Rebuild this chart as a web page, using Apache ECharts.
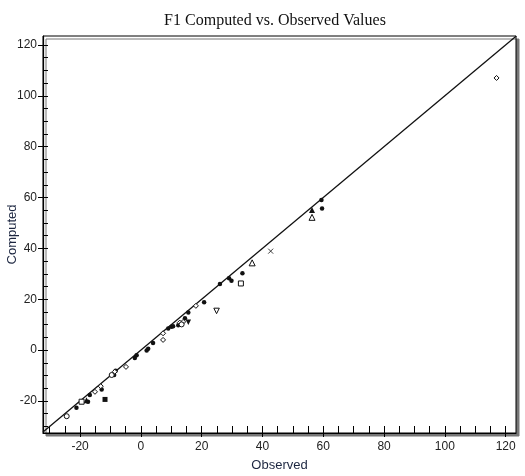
<!DOCTYPE html>
<html>
<head>
<meta charset="utf-8">
<script src="https://cdn.jsdelivr.net/npm/echarts@6/dist/echarts.min.js"></script>
<style>
  html, body { margin: 0; padding: 0; background: #fff; }
  #chart { width: 525px; height: 476px; }
</style>
</head>
<body>
<div id="chart"></div>
<script>
// Axis extents (observed and computed share nearly the same range)
const axisMin = -32.2;
const axisMax = 123.4;
const yAxisMin = -32.6;
const yAxisMax = 123.5;

// Tick values
const majorTicks = [-20, 0, 20, 40, 60, 80, 100, 120];
const minorTicks = [-30, -25, -20, -15, -10, -5, 0, 5, 10, 15, 20, 25, 30, 35, 40, 45, 50, 55, 60,
  65, 70, 75, 80, 85, 90, 95, 100, 105, 110, 115, 120];

// [observed, computed] pairs grouped by marker
const filledCircles = [
  [59.6, 55.7], [59.4, 59.0], [33.4, 30.2], [29.0, 28.2], [29.8, 27.3], [26.0, 26.0],
  [20.8, 18.8], [15.6, 14.8], [14.5, 12.5], [10.1, 9.2], [9.0, 8.5], [10.6, 9.4],
  [12.3, 9.8], [4.0, 2.8], [2.4, 0.5], [1.9, -0.2], [-1.4, -2.0], [-2.0, -3.1],
  [-8.3, -8.1], [-8.8, -9.8], [-12.9, -15.5], [-16.8, -17.7], [-17.4, -20.3], [-21.2, -22.7]
];
const filledTriangles = [[56.3, 55.1], [-17.9, -19.7]];
const filledDownTriangles = [[15.6, 10.9]];
const openTriangles = [[56.3, 52.2], [36.6, 34.3]];
const openDownTriangles = [[24.9, 15.4]];
const openSquares = [[32.9, 26.2], [-19.5, -20.3]];
const filledSquares = [[-11.8, -19.4]];
const crosses = [[42.7, 38.9]];
const openDiamonds = [
  [117.0, 107.0], [18.1, 17.4], [13.9, 11.1], [12.8, 10.8], [7.3, 6.6], [7.3, 4.0],
  [-4.9, -6.6], [-8.6, -8.5], [-13.2, -14.2], [-15.1, -16.4]
];
const openCircles = [[13.4, 10.1], [-24.4, -26.0], [-9.6, -9.8]];

const tickFont = '"Liberation Sans Narrow", "Liberation Sans", Arial, sans-serif';

function scatter(name, data, symbol, size, filled) {
  return {
    name: name,
    type: 'scatter',
    data: data,
    symbol: symbol,
    symbolSize: size,
    silent: true,
    itemStyle: {
      color: filled ? '#111' : '#fff',
      borderColor: '#111',
      borderWidth: filled ? 0 : 1,
      opacity: 1
    },
    z: 5
  };
}

const chart = echarts.init(document.getElementById('chart'), null, { renderer: 'canvas' });

chart.setOption({
  animation: false,
  backgroundColor: '#fff',
  title: {
    text: 'F1 Computed vs. Observed Values',
    left: 270,
    textAlign: 'center',
    top: 8,
    textStyle: {
      fontFamily: '"Liberation Serif", "Times New Roman", serif',
      fontWeight: 'normal',
      fontSize: 16,
      color: '#111'
    }
  },
  grid: {
    left: 43,
    right: 9,
    top: 36,
    bottom: 43,
    containLabel: false,
    outerBoundsMode: 'none',
    show: true,
    backgroundColor: '#fff',
    borderColor: '#000',
    borderWidth: 1,
    shadowColor: '#777',
    shadowBlur: 0,
    shadowOffsetX: 3,
    shadowOffsetY: 3
  },
  xAxis: [
    {
      type: 'value',
      min: axisMin,
      max: axisMax,
      position: 'bottom',
      name: 'Observed',
      nameLocation: 'middle',
      nameGap: 26,
      nameMoveOverlap: false,
      nameTextStyle: { fontFamily: tickFont, fontSize: 13, color: '#1c2640' },
      axisLine: { show: true, onZero: false, lineStyle: { color: '#000', width: 1.2 } },
      axisTick: { show: true, inside: false, length: 4, customValues: majorTicks, lineStyle: { color: '#000' } },
      axisLabel: { show: true, customValues: majorTicks, margin: 8, fontFamily: tickFont, fontSize: 12, color: '#222' },
      splitLine: { show: false }
    },
    {
      type: 'value',
      min: axisMin,
      max: axisMax,
      position: 'bottom',
      axisLine: { show: false, onZero: false },
      axisTick: { show: true, inside: true, length: 7, customValues: minorTicks, lineStyle: { color: '#000' } },
      axisLabel: { show: false },
      splitLine: { show: false }
    }
  ],
  yAxis: [
    {
      type: 'value',
      min: yAxisMin,
      max: yAxisMax,
      position: 'left',
      name: 'Computed',
      nameLocation: 'middle',
      nameGap: 24,
      nameMoveOverlap: false,
      nameTextStyle: { fontFamily: tickFont, fontSize: 13, color: '#1c2640' },
      axisLine: { show: true, onZero: false, lineStyle: { color: '#000', width: 1.2 } },
      axisTick: { show: true, inside: false, length: 5, customValues: majorTicks, lineStyle: { color: '#000' } },
      axisLabel: { show: true, customValues: majorTicks, margin: 6, fontFamily: tickFont, fontSize: 12, color: '#222' },
      splitLine: { show: false }
    },
    {
      type: 'value',
      min: yAxisMin,
      max: yAxisMax,
      position: 'left',
      axisLine: { show: false, onZero: false },
      axisTick: { show: true, inside: true, length: 5, customValues: minorTicks, lineStyle: { color: '#000' } },
      axisLabel: { show: false },
      splitLine: { show: false }
    }
  ],
  series: [
    {
      name: 'y = x',
      type: 'line',
      data: [[axisMin, axisMin], [yAxisMax, yAxisMax]],
      showSymbol: false,
      symbol: 'none',
      silent: true,
      lineStyle: { color: '#111', width: 1.3 },
      clip: true,
      z: 3
    },
    scatter('filledCircles', filledCircles, 'circle', 4.5, true),
    scatter('filledTriangles', filledTriangles, 'triangle', 6, true),
    scatter('filledDownTriangles', filledDownTriangles, 'path://M0,0L10,0L5,10Z', 5.5, true),
    scatter('openTriangles', openTriangles, 'triangle', 6, false),
    scatter('openDownTriangles', openDownTriangles, 'path://M0,0L10,0L5,10Z', 5.5, false),
    scatter('openSquares', openSquares, 'rect', 5, false),
    scatter('filledSquares', filledSquares, 'rect', 5, true),
    {
      name: 'crosses',
      type: 'scatter',
      data: crosses,
      symbol: 'path://M0,0L10,10M10,0L0,10',
      symbolSize: 5,
      silent: true,
      itemStyle: { color: 'none', borderColor: '#111', borderWidth: 1 },
      z: 5
    },
    scatter('openDiamonds', openDiamonds, 'diamond', 5, false),
    scatter('openCircles', openCircles, 'circle', 5, false)
  ]
});
</script>
</body>
</html>
